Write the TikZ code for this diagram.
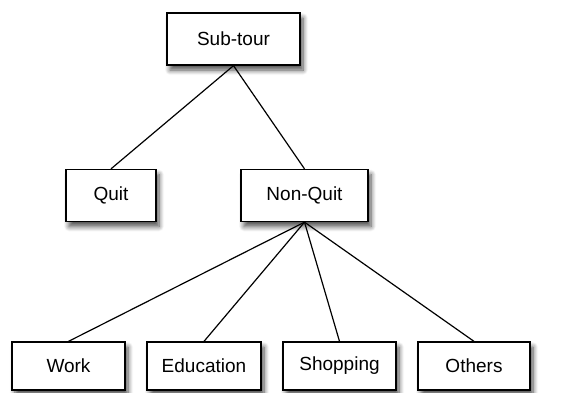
\documentclass[tikz,border=0pt]{standalone}
\usepackage{fontspec}
\setmainfont{Liberation Sans}
\usetikzlibrary{shadows.blur}

\begin{document}
\begin{tikzpicture}[x=1pt, y=-1pt,
  box/.style={draw=black, line width=1.3pt, fill=white, inner sep=0pt, minimum height=52pt,
    font=\fontsize{19}{22}\selectfont,
    blur shadow={shadow xshift=3pt, shadow yshift=-5pt, shadow blur steps=8, shadow blur radius=5pt, shadow opacity=70}}]
\tikzset{edge/.style = {line width=1.2pt}}
\useasboundingbox (0,0) rectangle (585,392);
\node[box, minimum width=133pt] (subtour) at (233.5,39) {Sub-tour};
\node[box, minimum width=90pt] (quit) at (111,195.5) {Quit};
\node[box, minimum width=127pt] (nonquit) at (304.5,195.5) {Non-Quit};
\node[box, minimum width=113pt, minimum height=48pt] (work) at (68.5,366) {Work};
\node[box, minimum width=114pt, minimum height=48pt] (edu) at (204,366) {Education};
\node[box, minimum width=113pt, minimum height=48pt] (shop) at (339.5,366) {Shopping};
\node[box, minimum width=112pt, minimum height=48pt] (others) at (474,366) {Others};
\draw[edge] (subtour.south) -- (quit.north);
\draw[edge] (subtour.south) -- (nonquit.north);
\draw[edge] (nonquit.south) -- (work.north);
\draw[edge] (nonquit.south) -- (edu.north);
\draw[edge] (nonquit.south) -- (shop.north);
\draw[edge] (nonquit.south) -- (others.north);
\end{tikzpicture}
\end{document}
